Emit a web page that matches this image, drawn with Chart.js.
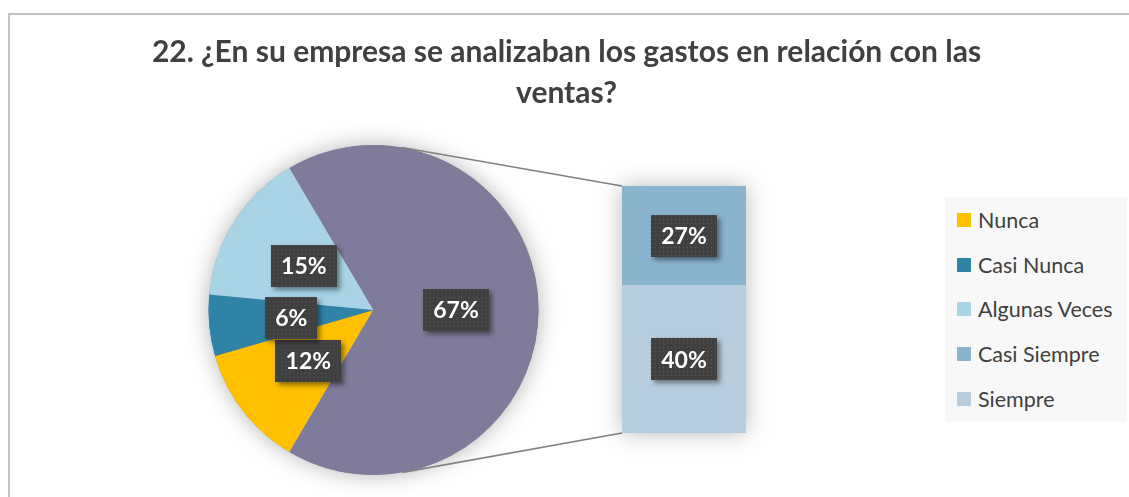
<!DOCTYPE html>
<html><head><meta charset="utf-8">
<script src="https://cdn.jsdelivr.net/npm/chart.js@4.4.1/dist/chart.umd.min.js"></script>
<style>
html,body{margin:0;padding:0;background:#fff;width:1129px;height:497px;overflow:hidden;position:relative;font-family:Lato,"Open Sans",sans-serif}
#frame{position:absolute;left:8px;top:13px;width:1200px;height:600px;border-left:2px solid #c3c3c3;border-top:2px solid #c3c3c3;box-sizing:border-box}
#pie{position:absolute;left:0;top:0}
#bar{position:absolute;left:582px;top:146px}
#title{position:absolute;left:0;width:1133px;top:30px;text-align:center;font-weight:bold;font-size:30px;line-height:41px;color:#404040}
#legend{position:absolute;left:945px;top:197px;width:182px;height:225px;background:#f8f8f8}
.item{position:absolute;left:12px;height:24px;display:flex;align-items:center;font-size:21.5px;color:#404040;white-space:nowrap}
.sw{width:14px;height:14px;margin-right:7px;flex:none}
</style>
</head><body>
<div id="frame"></div>
<canvas id="pie" width="1129" height="497"></canvas>
<canvas id="bar" width="204" height="327"></canvas>
<div id="title">22. ¿En su empresa se analizaban los gastos en relación con las<br>ventas?</div>
<div id="legend"></div>
<script>
// ---- data ----
const categories = ['Nunca', 'Casi Nunca', 'Algunas Veces', 'Casi Siempre', 'Siempre'];
const values = [12, 6, 15, 27, 40];
const colors = ['#FFC000', '#2E83A6', '#A8D4E6', '#8AB3CD', '#B8CDDD'];
const pieCount = 3;              // first categories shown in the pie
const otherLabel = 'Otros';
const otherColor = '#7F7B9A';

const pieLabels = categories.slice(0, pieCount).concat([otherLabel]);
const barCats = categories.slice(pieCount);
const barVals = values.slice(pieCount);
const barColors = colors.slice(pieCount);
const otherTotal = barVals.reduce((a, b) => a + b, 0);
const pieVals = values.slice(0, pieCount).concat([otherTotal]);
const pieColors = colors.slice(0, pieCount).concat([otherColor]);
const total = pieVals.reduce((a, b) => a + b, 0);
const fmt = v => Math.round(v / total * 100) + '%';

// ---- label drawing ----
const dotTile = (() => {
  const c = document.createElement('canvas'); c.width = 4; c.height = 4;
  const g = c.getContext('2d');
  g.fillStyle = '#404040'; g.fillRect(0, 0, 4, 4);
  g.fillStyle = '#585858'; g.fillRect(1, 1, 1, 1);
  return c;
})();
function drawLabel(ctx, text, cx, cy) {
  ctx.save();
  ctx.font = 'bold 23px Lato';
  const w = Math.round(ctx.measureText(text).width + 20), h = 42;
  const x = Math.round(cx - w / 2), y = Math.round(cy - h / 2);
  ctx.shadowColor = 'rgba(0,0,0,0.45)'; ctx.shadowBlur = 5;
  ctx.shadowOffsetX = 3; ctx.shadowOffsetY = 3;
  ctx.fillStyle = '#404040'; ctx.fillRect(x, y, w, h);
  ctx.shadowColor = 'transparent';
  ctx.fillStyle = ctx.createPattern(dotTile, 'repeat'); ctx.fillRect(x, y, w, h);
  ctx.fillStyle = '#ffffff'; ctx.textAlign = 'center'; ctx.textBaseline = 'middle';
  ctx.fillText(text, cx, cy + 1);
  ctx.restore();
}

// ---- bar of pie ----
const barChart = new Chart(document.getElementById('bar'), {
  type: 'bar',
  data: {
    labels: [otherLabel],
    datasets: barCats.map((c, i) => ({
      label: c, data: [barVals[i]], backgroundColor: barColors[i],
      borderWidth: 0, barPercentage: 1, categoryPercentage: 1
    })).reverse()
  },
  options: {
    responsive: false, animation: false, events: [],
    layout: { padding: 40 },
    scales: {
      x: { display: false, stacked: true },
      y: { display: false, stacked: true, min: 0, max: otherTotal }
    },
    plugins: { legend: { display: false }, tooltip: { enabled: false } }
  },
  plugins: [{
    id: 'barDeco',
    beforeDatasetsDraw(chart) {
      const ctx = chart.ctx;
      const n = chart.data.datasets.length;
      const bot = chart.getDatasetMeta(0).data[0];
      const top = chart.getDatasetMeta(n - 1).data[0];
      ctx.save();
      ctx.shadowColor = 'rgba(0,0,0,0.28)'; ctx.shadowBlur = 22;
      ctx.fillStyle = '#ffffff';
      ctx.fillRect(top.x - top.width / 2, top.y, top.width, bot.base - top.y);
      ctx.restore();
    },
    afterDatasetsDraw(chart) {
      chart.data.datasets.forEach((ds, i) => {
        const el = chart.getDatasetMeta(i).data[0];
        drawLabel(chart.ctx, fmt(ds.data[0]), el.x, (el.y + el.base) / 2);
      });
    }
  }]
});

// ---- pie ----
const pieChart = new Chart(document.getElementById('pie'), {
  type: 'pie',
  data: {
    labels: pieLabels,
    datasets: [{ data: pieVals, backgroundColor: pieColors, borderWidth: 0 }]
  },
  options: {
    responsive: false, animation: false, events: [],
    rotation: 90 + (otherTotal / total) * 180,
    layout: { padding: { left: 208, right: 590, top: 145, bottom: 22 } },
    plugins: { legend: { display: false }, tooltip: { enabled: false } }
  },
  plugins: [{
    id: 'pieDeco',
    beforeDatasetsDraw(chart) {
      const a = chart.getDatasetMeta(0).data[0];
      const ctx = chart.ctx;
      ctx.save();
      ctx.shadowColor = 'rgba(0,0,0,0.3)'; ctx.shadowBlur = 22;
      ctx.fillStyle = otherColor;
      ctx.beginPath(); ctx.arc(a.x, a.y, a.outerRadius, 0, Math.PI * 2); ctx.fill();
      ctx.restore();
    },
    afterDatasetsDraw(chart) {
      const ctx = chart.ctx;
      const arcs = chart.getDatasetMeta(0).data;
      const cx = arcs[0].x, cy = arcs[0].y, r = arcs[0].outerRadius;
      // connector lines: tangent from bar corners to pie
      const bc = barChart.canvas;
      const n = barChart.data.datasets.length;
      const bot = barChart.getDatasetMeta(0).data[0];
      const top = barChart.getDatasetMeta(n - 1).data[0];
      const left = bc.offsetLeft + top.x - top.width / 2;
      const corners = [[left, bc.offsetTop + top.y, -1], [left, bc.offsetTop + bot.base, 1]];
      ctx.save();
      ctx.strokeStyle = '#808080'; ctx.lineWidth = 1.6;
      corners.forEach(([px, py, s]) => {
        const dx = px - cx, dy = py - cy, d = Math.hypot(dx, dy);
        const base = Math.atan2(dy, dx), off = Math.acos(r / d);
        const a1 = base - off, a2 = base + off;
        const pick = s < 0 ? (Math.sin(a1) < Math.sin(a2) ? a1 : a2) : (Math.sin(a1) > Math.sin(a2) ? a1 : a2);
        ctx.beginPath();
        ctx.moveTo(cx + r * Math.cos(pick), cy + r * Math.sin(pick));
        ctx.lineTo(px, py); ctx.stroke();
      });
      ctx.restore();
      arcs.forEach((el, i) => {
        const p = el.tooltipPosition();
        drawLabel(ctx, fmt(pieVals[i]), p.x, p.y);
      });
    }
  }]
});

// ---- legend ----
const leg = document.getElementById('legend');
categories.forEach((c, i) => {
  const d = document.createElement('div');
  d.className = 'item';
  d.style.top = (11 + i * 44.7) + 'px';
  d.innerHTML = '<span class="sw" style="background:' + colors[i] + '"></span><span>' + c + '</span>';
  leg.appendChild(d);
});
</script>
</body></html>
